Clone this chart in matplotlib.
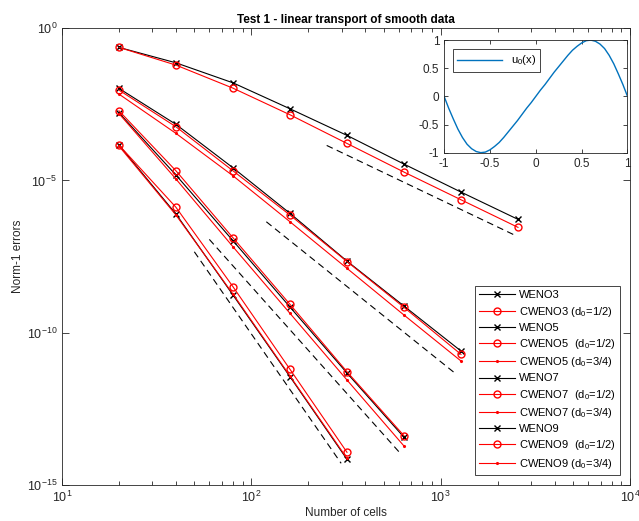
import numpy as np
import matplotlib
matplotlib.use('Agg')
from matplotlib import rcParams, pyplot as plt
from matplotlib.ticker import LogLocator, NullLocator, FixedLocator

rcParams.update({
    "font.family": ['Liberation Sans', 'DejaVu Sans'],
    "font.size": 8,
    "mathtext.fontset": 'custom',
    "mathtext.rm": 'Liberation Sans',
    "mathtext.it": 'Liberation Sans:italic',
    "mathtext.bf": 'Liberation Sans:bold',
})

# 数据
N = [20, 40, 80, 160, 320, 640, 1280, 2560]

weno3 = [2.33e-1, 7.26e-2, 1.60e-2, 2.25e-3, 3.01e-4, 3.44e-5, 4.15e-6, 5.27e-7]
cweno3_12 = [2.33e-1, 6.11e-2, 1.07e-2, 1.43e-3, 1.64e-4, 1.88e-5, 2.32e-6, 2.88e-7]

weno5 = [1.05e-2, 6.92e-4, 2.60e-5, 8.30e-7, 2.25e-8, 7.52e-10, 2.51e-11]
cweno5_12 = [9.23e-3, 5.77e-4, 2.07e-5, 7.30e-7, 2.17e-8, 6.82e-10, 1.95e-11]
cweno5_34 = [6.82e-3, 3.50e-4, 1.42e-5, 4.40e-7, 1.30e-8, 3.81e-10, 1.18e-11]

weno7 = [1.66e-3, 1.50e-5, 1.05e-7, 6.97e-10, 4.75e-12, 3.69e-14]
cweno7_12 = [1.93e-3, 2.07e-5, 1.31e-7, 8.55e-10, 5.25e-12, 4.17e-14]
cweno7_34 = [1.56e-3, 1.11e-5, 6.64e-8, 4.33e-10, 2.81e-12, 1.91e-14]

weno9 = [1.45e-4, 7.87e-7, 1.73e-9, 3.60e-12, 7.00e-15]
cweno9_12 = [1.45e-4, 1.31e-6, 3.24e-9, 6.30e-12, 1.19e-14]
cweno9_34 = [1.34e-4, 7.30e-7, 1.86e-9, 3.79e-12, 7.55e-15]

# 参考斜率线 (虚线): 起止点
ref_N = [[250, 2520], [120, 1205], [60, 605], [50, 298]]
ref_err = [[1.41e-4, 1.49e-7], [4.40e-7, 4.42e-12], [1.16e-7, 1.19e-14], [4.55e-8, 5.18e-15]]

# 插图 u0(x)
u_x = [-1.0, -0.95, -0.9, -0.85, -0.8, -0.75, -0.7, -0.65, -0.6, -0.55, -0.5,
       -0.45, -0.4, -0.35, -0.3, -0.25, -0.2, -0.15, -0.1, -0.05, 0.0,
       0.05, 0.1, 0.15, 0.2, 0.25, 0.3, 0.35, 0.4, 0.45, 0.5,
       0.55, 0.6, 0.65, 0.7, 0.75, 0.8, 0.85, 0.9, 0.95, 1.0]
u_y = [0.0, -0.21, -0.40, -0.58, -0.73, -0.85, -0.93, -0.98, -1.0, -0.99, -0.95,
       -0.89, -0.82, -0.73, -0.63, -0.53, -0.43, -0.32, -0.21, -0.11, 0.0,
       0.11, 0.21, 0.32, 0.43, 0.53, 0.63, 0.73, 0.82, 0.89, 0.95,
       0.99, 1.0, 0.98, 0.93, 0.85, 0.73, 0.58, 0.40, 0.21, 0.0]

inset_ticks = [-1, -0.5, 0, 0.5, 1]
inset_ticklabels = ['-1', '-0.5', '0', '0.5', '1']

axc = '#262626'
fig = plt.figure(figsize=(6.39, 5.21), dpi=100)
ax = fig.add_axes([0.097, 0.069, 0.889, 0.877])

lw = 0.8
ms = 5
ax.loglog(N, weno3, 'k-x', lw=lw, ms=ms, label='WENO3')
ax.loglog(N, cweno3_12, 'r-o', lw=lw, ms=ms, mfc='none', label='CWENO3 (d$_0$=1/2)')
ax.loglog(N[:7], weno5, 'k-x', lw=lw, ms=ms, label='WENO5')
ax.loglog(N[:7], cweno5_12, 'r-o', lw=lw, ms=ms, mfc='none', label='CWENO5  (d$_0$=1/2)')
ax.loglog(N[:7], cweno5_34, 'r.-', lw=lw, ms=2.5, label='CWENO5 (d$_0$=3/4)')
ax.loglog(N[:6], weno7, 'k-x', lw=lw, ms=ms, label='WENO7')
ax.loglog(N[:6], cweno7_12, 'r-o', lw=lw, ms=ms, mfc='none', label='CWENO7  (d$_0$=1/2)')
ax.loglog(N[:6], cweno7_34, 'r.-', lw=lw, ms=2.5, label='CWENO7 (d$_0$=3/4)')
ax.loglog(N[:5], weno9, 'k-x', lw=lw, ms=ms, label='WENO9')
ax.loglog(N[:5], cweno9_12, 'r-o', lw=lw, ms=ms, mfc='none', label='CWENO9  (d$_0$=1/2)')
ax.loglog(N[:5], cweno9_34, 'r.-', lw=lw, ms=2.5, label='CWENO9 (d$_0$=3/4)')

for xs, ys in zip(ref_N, ref_err):
    ax.loglog(xs, ys, 'k--', lw=lw, dashes=(6, 4), label='_nolegend_')

ax.set_xlim(10, 1e4)
ax.set_ylim(1e-15, 1)
ax.yaxis.set_major_locator(FixedLocator([1e0, 1e-5, 1e-10, 1e-15]))
ax.yaxis.set_minor_locator(NullLocator())
ax.xaxis.set_major_locator(FixedLocator([1e1, 1e2, 1e3, 1e4]))
ax.xaxis.set_minor_locator(LogLocator(base=10, subs=np.arange(2, 10), numticks=20))
ax.tick_params(which='both', direction='in', top=True, right=True, colors=axc, labelsize=9)
ax.tick_params(which='major', length=5, width=0.6)
ax.tick_params(which='minor', length=3, width=0.6)
for s in ax.spines.values():
    s.set_color(axc)
    s.set_linewidth(0.6)

ax.set_title('Test 1 - linear transport of smooth data', fontsize=8.5, fontweight='bold', pad=4)
ax.set_xlabel('Number of cells', fontsize=8.5, color=axc, labelpad=1)
ax.set_ylabel('Norm-1 errors', fontsize=8.5, color=axc, labelpad=2)

leg = ax.legend(loc='lower right', fontsize=8, frameon=True, fancybox=False,
                edgecolor=axc, framealpha=1, handlelength=3.2, borderaxespad=0.9,
                labelspacing=0.38, handletextpad=0.4)
leg.get_frame().set_linewidth(0.6)

# 插图
axi = fig.add_axes([0.695, 0.707, 0.287, 0.216])
axi.plot(u_x, u_y, color='#0072BD', lw=1.0, label='u$_0$(x)')
axi.set_xlim(-1, 1)
axi.set_ylim(-1, 1)
axi.set_xticks(inset_ticks)
axi.set_xticklabels(inset_ticklabels)
axi.set_yticks(inset_ticks)
axi.set_yticklabels(inset_ticklabels)
axi.tick_params(direction='in', top=True, right=True, colors=axc, labelsize=8.5, length=3, width=0.6)
for s in axi.spines.values():
    s.set_color(axc)
    s.set_linewidth(0.6)
li = axi.legend(loc='upper left', fontsize=8, fancybox=False, edgecolor=axc, framealpha=1,
                handlelength=4, borderaxespad=0.8)
li.get_frame().set_linewidth(0.6)

fig.savefig('out.png', dpi=100)
